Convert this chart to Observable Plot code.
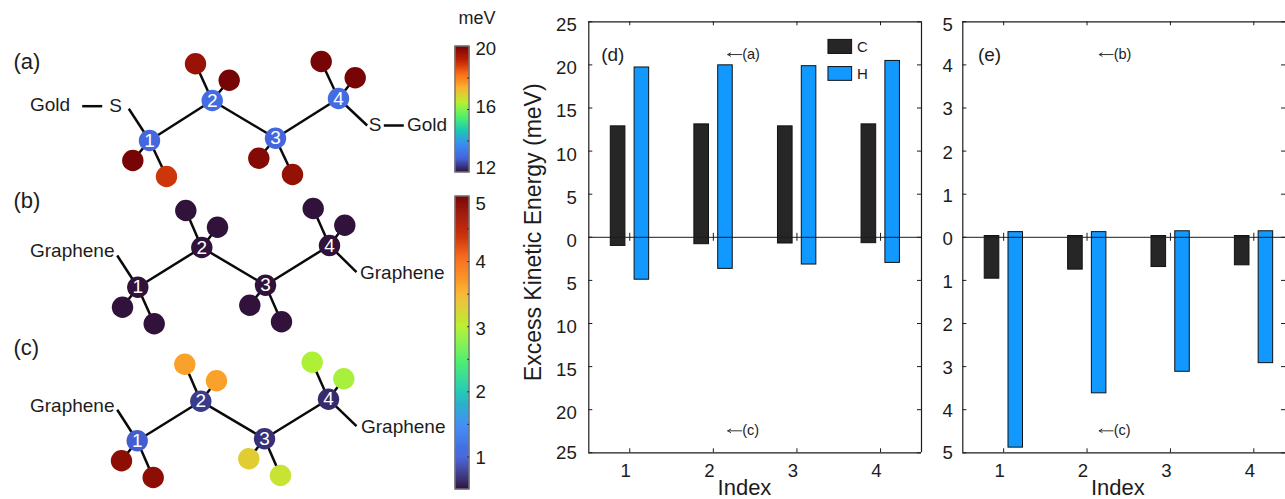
<!DOCTYPE html>
<html><head><meta charset="utf-8">
<script src="https://cdn.jsdelivr.net/npm/d3@7"></script>
<script src="https://cdn.jsdelivr.net/npm/@observablehq/plot@0.6"></script>
<style>html,body{margin:0;padding:0;background:#fff;overflow:hidden}#root{position:relative;width:1285px;height:499px;overflow:hidden}#root svg{position:absolute;top:0}</style>
</head><body><div id="root"></div>
<script>
const FONT = "Liberation Sans, Arial, sans-serif";
const INK = "#1c1c1c";
const indices = [1, 2, 3, 4];

// (d) energies in meV
const dCup = [12.87, 13.1, 12.87, 13.1];
const dCdown = [1.0, 0.8, 0.72, 0.68];
const dHup = [19.7, 19.95, 19.85, 20.46];
const dHdown = [4.92, 3.66, 3.16, 2.97];
// (e) energies in meV
const eCup = [0.03, 0.03, 0.03, 0.03];
const eCdown = [0.96, 0.75, 0.69, 0.65];
const eHup = [0.12, 0.12, 0.14, 0.14];
const eHdown = [4.88, 3.62, 3.12, 2.92];

// atom colour values
const atomOrder = ["C1", "C2", "C3", "C4", "H1a", "H1b", "H2a", "H2b", "H3a", "H3b", "H4a", "H4b"];
const valuesA = [12.95, 13.05, 12.95, 13.05, 20, 18.9, 19.6, 20, 19.85, 19.65, 20, 20];
const valuesB = [0.03, 0.03, 0.03, 0.03, 0.12, 0.12, 0.12, 0.12, 0.14, 0.14, 0.14, 0.14];
const valuesC = [0.96, 0.75, 0.69, 0.65, 4.85, 4.85, 3.65, 3.65, 3.3, 3.12, 2.95, 2.92];

// molecule geometry, in diagram units
const atomXA = [149, 211.7, 275, 338, 132.3, 166, 195, 228.7, 258.3, 292, 320.7, 354.7];
const atomYA = [140, 100, 137.7, 98, 160, 176, 63.3, 79.7, 157.7, 174, 61, 77.3];
const atomXB = [137.3, 201.3, 265, 329, 122, 153.7, 185.3, 217, 249.3, 281, 312.7, 344.3];
const atomYB = [286.7, 247, 284.7, 245, 306.7, 323.3, 210, 226.7, 304.7, 321.3, 208, 224.7];
const atomXC = [136.7, 200.3, 264, 328, 121, 152.7, 184.3, 216, 248.3, 280, 311.7, 343.3];
const atomYC = [440.3, 400.7, 438.3, 398.7, 460.3, 477, 363.7, 380.3, 458.3, 475, 361.7, 378.3];
const bondPairs = [[0,1],[1,2],[2,3],[0,4],[0,5],[1,6],[1,7],[2,8],[2,9],[3,10],[3,11]];
const stubsA = [[0,128.3,108.3],[3,366.7,125]];
const stubsB = [[0,116.7,255],[3,356,271.7]];
const stubsC = [[0,116.7,409.3],[3,356,425.7]];
const extraBondsA = [[81.7,105.7,101.7,105.7],[383.3,125,403.3,125]];
const labelsA = [["Gold",29.5,104.5,"start"],["S",115,105.5,"middle"],["S",374.7,124,"middle"],["Gold",406.5,124,"start"],["(a)",13,61.5,"start"]];
const labelsB = [["Graphene",29.5,250.5,"start"],["Graphene",359.5,272.2,"start"],["(b)",13,200.2,"start"]];
const labelsC = [["Graphene",29.5,405.2,"start"],["Graphene",360.5,426.2,"start"],["(c)",13,347.5,"start"]];

// colour ramp
const rampFractions = [0, 0.11, 0.22, 0.334, 0.44, 0.557, 0.67, 0.78, 0.89, 1];
const rampColors = ["#30123b","#4664dc","#3c8cf5","#1ec8b4","#50f06e","#b9f032","#fab432","#fa6e19","#be2305","#780505"];
const scaleA = [12, 20];
const scaleB = [0.5, 5];
const rampDomain = ([a, b]) => rampFractions.map(f => a + f * (b - a));
const colorOpts = s => ({type: "linear", domain: rampDomain(s), range: rampColors, interpolate: "rgb", clamp: true});

const root = document.getElementById("root");
const place = (svg, left) => { svg.style.left = left + "px"; root.appendChild(svg); };
const baseStyle = {fontFamily: FONT, background: "transparent", overflow: "visible"};

function molecule(xs, ys, values, scale, stubs, extra, labels) {
  const atoms = atomOrder.map((name, i) => ({name, x: xs[i], y: ys[i], v: values[i]}));
  const bonds = bondPairs.map(([a, b]) => ({x1: xs[a], y1: ys[a], x2: xs[b], y2: ys[b]}))
    .concat(stubs.map(([a, x, y]) => ({x1: xs[a], y1: ys[a], x2: x, y2: y})))
    .concat(extra.map(([x1, y1, x2, y2]) => ({x1, y1, x2, y2})));
  const text = labels.map(([t, x, y, a]) => ({t, x, y, a}));
  const carbons = atoms.slice(0, 4), hydrogens = atoms.slice(4);
  return Plot.plot({
    width: 450, height: 499, margin: 0,
    x: {domain: [0, 450], range: [0, 450], axis: null},
    y: {domain: [0, 499], range: [0, 499], axis: null},
    color: colorOpts(scale),
    style: baseStyle,
    marks: [
      Plot.link(bonds, {x1: "x1", y1: "y1", x2: "x2", y2: "y2", stroke: "#0a0a0a", strokeWidth: 2.5}),
      Plot.dot(hydrogens, {x: "x", y: "y", r: 10.7, fill: "v"}),
      Plot.dot(carbons, {x: "x", y: "y", r: 10.7, fill: "v"}),
      Plot.text(carbons, {x: "x", y: "y", text: d => d.name.slice(1), fill: "#fff", fontSize: 19}),
      Plot.text(text.filter(d => d.a === "start" && d.t[0] !== "("), {x: "x", y: "y", text: "t", textAnchor: "start", fontSize: 19, fill: INK}),
      Plot.text(text.filter(d => d.a === "middle"), {x: "x", y: "y", text: "t", fontSize: 19, fill: INK}),
      Plot.text(text.filter(d => d.t[0] === "("), {x: "x", y: "y", text: "t", textAnchor: "start", fontSize: 22, fill: INK})
    ]
  });
}

function colorbar(scale, top, bottom, tickVals, labelVals, labelAt, unit) {
  const step = (scale[1] - scale[0]) / 300;
  const ramp = d3.range(300).map(i => ({lo: scale[0] + i * step, hi: scale[0] + (i + 1) * step}));
  const labels = labelVals.map((t, i) => ({t, at: labelAt[i]}));
  const mid = d => (d.lo + d.hi) / 2;
  return Plot.plot({
    width: 60, height: 499, marginLeft: 15, marginRight: 31, marginTop: top, marginBottom: 499 - bottom,
    x: {domain: [0, 1], axis: null},
    y: {domain: scale, axis: null},
    color: colorOpts(scale),
    style: baseStyle,
    marks: [
      Plot.rect(ramp, {x1: 0, x2: 1, y1: "lo", y2: "hi", fill: mid, stroke: mid, strokeWidth: 0.6}),
      Plot.rect([0], {x1: 0, x2: 1, y1: scale[0], y2: scale[1], stroke: "#777", strokeWidth: 1.4, fill: "none"}),
      Plot.ruleY(tickVals, {x1: 0.86, x2: 1, stroke: "#333", strokeWidth: 1}),
      Plot.text(labels, {x: 1, y: "at", text: d => String(d.t), dx: 6, textAnchor: "start", fontSize: 18.6, fill: INK}),
      unit ? Plot.text([unit], {x: 1, y: scale[1], dx: -11, dy: -28, fontSize: 18, textAnchor: "start", fill: INK}) : null
    ]
  });
}

function panel(cfg) {
  const {Cup, Cdown, Hup, Hdown, ymax, yticks, xMax, width, marginLeft, marginRight, tickPad, labelDy} = cfg;
  const rows = [];
  indices.forEach((i, k) => {
    rows.push({x1: i - 0.227, x2: i - 0.052, lo: -Cdown[k], hi: Cup[k], fill: "#262626"});
    rows.push({x1: i + 0.058, x2: i + 0.232, lo: -Hdown[k], hi: Hup[k], fill: "#1299ff"});
  });
  const xMin = 0.51, xT = 4 / 83.6, yT = ymax * 4 / 215;
  const yAxis = (ticks, dy) => Plot.axisY({ticks, tickSize: 0, tickPadding: tickPad, tickFormat: d => String(Math.abs(d)), fontSize: 18.6, label: null, fill: INK, dy});
  const noteY = ymax * 0.848, noteLow = -ymax * 0.898, arrowLen = 14 / 83.6;
  const notes = [{y: noteY, t: cfg.upNote}, {y: noteLow, t: "(c)"}];
  const marks = [
    Plot.rect(rows, {x1: "x1", x2: "x2", y1: "lo", y2: "hi", fill: "fill", stroke: "#111", strokeWidth: 1}),
    Plot.ruleY([0], {stroke: INK, strokeWidth: 1}),
    Plot.ruleY([-ymax, ymax], {stroke: INK, strokeWidth: 1.2}),
    Plot.ruleX([xMin], {stroke: INK, strokeWidth: 1.2}),
    Plot.ruleX(indices, {y1: -yT, y2: yT, stroke: INK, strokeWidth: 1}),
    Plot.ruleX(indices, {y1: ymax, y2: ymax - yT, stroke: INK, strokeWidth: 1}),
    Plot.ruleX(indices, {y1: -ymax, y2: -ymax + yT, stroke: INK, strokeWidth: 1}),
    Plot.ruleY(yticks, {x1: xMin, x2: xMin + xT, stroke: INK, strokeWidth: 1}),
    Plot.ruleY(yticks, {x1: xMax, x2: xMax - xT, stroke: INK, strokeWidth: 1}),
    yAxis(yticks.filter(d => Math.abs(d) !== ymax), labelDy),
    yAxis([ymax], 3.5),
    yAxis([-ymax], 0),
    Plot.axisX({ticks: indices, tickSize: 0, tickPadding: 11, tickFormat: d => String(d), fontSize: 18.6, label: null, fill: INK, dx: -4}),
    Plot.text(["Index"], {x: cfg.indexX, y: -ymax, dy: 35, fontSize: 22, fill: INK}),
    Plot.text([cfg.tag], {x: cfg.tagX, y: noteY, textAnchor: "start", fontSize: 19, fill: INK}),
    Plot.arrow(notes, {x1: cfg.noteX + arrowLen, x2: cfg.noteX, y1: "y", y2: "y", bend: 0, headLength: 5, strokeWidth: 1, stroke: "#333"}),
    Plot.text(notes, {x: cfg.noteX + arrowLen, y: "y", text: "t", dx: 0.5, textAnchor: "start", fontSize: 14.5, fill: INK})
  ];
  if (cfg.rightEdge) marks.push(Plot.ruleX([xMax], {stroke: INK, strokeWidth: 1.2}));
  if (cfg.legend) {
    marks.push(
      Plot.rect(cfg.legend, {x1: 3.377, x2: 3.66, y1: "lo", y2: "hi", fill: "fill", stroke: "#111", strokeWidth: 1}),
      Plot.text(cfg.legend, {x: 3.66, y: d => (d.lo + d.hi) / 2, text: "t", dx: 5, textAnchor: "start", fontSize: 15, fill: INK}),
      Plot.text(["Excess Kinetic Energy (meV)"], {x: xMin, y: 0, dx: -55, dy: -5, rotate: -90, fontSize: 23, fill: INK})
    );
  }
  return Plot.plot({
    width, height: 499, marginLeft, marginRight, marginTop: 21.3, marginBottom: 46.7,
    x: {domain: [xMin, xMax], axis: null},
    y: {domain: [-ymax, ymax], axis: null},
    style: baseStyle,
    marks
  });
}

place(molecule(atomXA, atomYA, valuesA, scaleA, stubsA, extraBondsA, labelsA), 0);
place(molecule(atomXB, atomYB, valuesB, scaleB, stubsB, [], labelsB), 0);
place(molecule(atomXC, atomYC, valuesC, scaleB, stubsC, [], labelsC), 0);
place(colorbar(scaleA, 46, 172, [14, 16, 18], [12, 16, 20], [12.3, 16.13, 19.87], "meV"), 440);
place(colorbar(scaleB, 196, 489, [1, 1.5, 2, 2.5, 3, 3.5, 4, 4.5], [1, 2, 3, 4, 5], [0.99, 1.99, 2.97, 3.99, 4.89]), 440);

place(panel({
  Cup: dCup, Cdown: dCdown, Hup: dHup, Hdown: dHdown, ymax: 25, yticks: d3.range(-25, 26, 5),
  xMax: 4.49, rightEdge: true, width: 412, marginLeft: 78.3, marginRight: 1, tickPad: 12, labelDy: 3.5,
  indexX: 2.372, tag: "(d)", tagX: 0.658, noteX: 2.172, upNote: "(a)",
  legend: [{lo: 21.27, hi: 22.9, fill: "#262626", t: "C"}, {lo: 18.15, hi: 19.75, fill: "#1299ff", t: "H"}]
}), 510);
place(panel({
  Cup: eCup, Cdown: eCdown, Hup: eHup, Hdown: eHdown, ymax: 5, yticks: d3.range(-5, 6, 1),
  xMax: 4.38, width: 365, marginLeft: 42.3, marginRight: 0, tickPad: 10, labelDy: 1.5,
  indexX: 2.37, tag: "(e)", tagX: 0.691, noteX: 2.146, upNote: "(b)"
}), 920);
</script></body></html>
